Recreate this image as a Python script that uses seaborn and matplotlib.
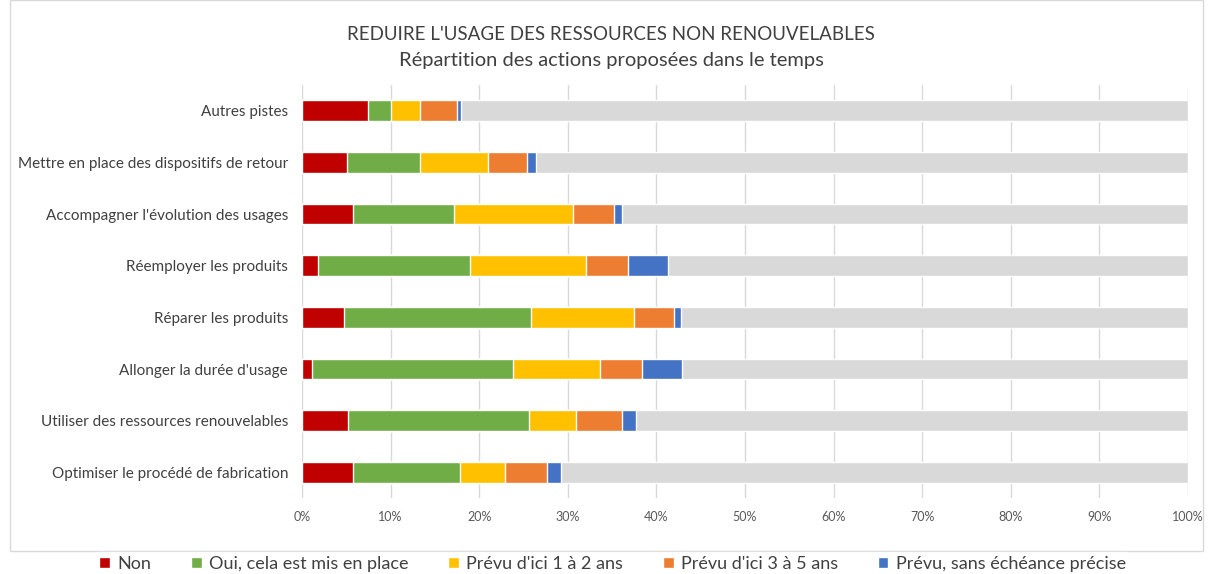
import numpy as np
import pandas as pd
import matplotlib.pyplot as plt
import seaborn as sns
from matplotlib.patches import Patch, Rectangle

# Data (percent of respondents), top to bottom as displayed
actions = ["Autres pistes",
           "Mettre en place des dispositifs de retour",
           "Accompagner l'évolution des usages",
           "Réemployer les produits",
           "Réparer les produits",
           "Allonger la durée d'usage",
           "Utiliser des ressources renouvelables",
           "Optimiser le procédé de fabrication"]
non = [7.5, 5.05, 5.76, 1.81, 4.75, 1.13, 5.2, 5.72]
oui = [2.5, 8.25, 11.38, 17.14, 21.05, 22.67, 20.41, 12.17]
ici_1_2 = [3.3, 7.68, 13.41, 13.1, 11.64, 9.8, 5.31, 4.97]
ici_3_5 = [4.25, 4.44, 4.63, 4.71, 4.6, 4.74, 5.16, 4.82]
sans_echeance = [0.35, 1.0, 0.94, 4.56, 0.79, 4.56, 1.66, 1.59]

series_names = ["Non", "Oui, cela est mis en place", "Prévu d'ici 1 à 2 ans",
                "Prévu d'ici 3 à 5 ans", "Prévu, sans échéance précise"]
colors = ["#c00000", "#70ad47", "#ffc000", "#ed7d31", "#4472c4"]
rest_color = "#d9d9d9"

df = pd.DataFrame({"action": actions, series_names[0]: non, series_names[1]: oui,
                   series_names[2]: ici_1_2, series_names[3]: ici_3_5,
                   series_names[4]: sans_echeance})
cum = df[series_names].cumsum(axis=1)

sns.set_style("white")
plt.rcParams['font.family'] = ['Lato', 'DejaVu Sans']

fig = plt.figure(figsize=(12.08, 5.74), dpi=100)
ax = fig.add_axes([0.25, 0.132, 0.7334, 0.72])

# remainder up to 100%
sns.barplot(x=[100] * len(actions), y=actions, color=rest_color, orient="h",
            width=0.4, ax=ax, saturation=1)
# stacked segments: draw from the largest cumulative to the smallest
for name, col in reversed(list(zip(series_names, colors))):
    sns.barplot(x=cum[name].values, y=actions, color=col, orient="h",
                width=0.4, ax=ax, saturation=1)

ax.set_xlim(0, 100)
ax.set_ylim(7.5, -0.5)
ax.set_xticks(np.arange(0, 101, 10))
ax.set_xticklabels([f"{v}%" for v in range(0, 101, 10)], color="#595959", fontsize=9)
ax.tick_params(axis="y", labelsize=11, labelcolor="#404040", pad=10, length=0)
ax.tick_params(axis="x", length=0, pad=9)
ax.set_axisbelow(True)
ax.grid(axis="x", color="#d9d9d9", linewidth=1)
ax.set_xlabel("")
ax.set_ylabel("")
for s in ax.spines.values():
    s.set_visible(False)

fig.text(0.506, 0.94, "REDUIRE L'USAGE DES RESSOURCES NON RENOUVELABLES",
         ha="center", va="center", fontsize=13.5, color="#404040")
fig.text(0.506, 0.895, "Répartition des actions proposées dans le temps",
         ha="center", va="center", fontsize=14.5, color="#404040")

# chart frame
fig.patches.append(Rectangle((0.008, 0.04), 0.988, 0.96, transform=fig.transFigure,
                             fill=False, edgecolor="#d9d9d9", linewidth=1))

handles = [Patch(facecolor=c, label=n) for n, c in zip(series_names, colors)]
leg = fig.legend(handles=handles, loc="center", bbox_to_anchor=(0.507, 0.018),
                 ncol=5, frameon=True, fontsize=13, handlelength=0.6, handleheight=0.6,
                 handletextpad=0.4, columnspacing=2.2, borderpad=0.2)
leg.get_frame().set_facecolor("white")
leg.get_frame().set_edgecolor("white")
for t in leg.get_texts():
    t.set_color("#404040")

fig.savefig("out.png", dpi=100)
